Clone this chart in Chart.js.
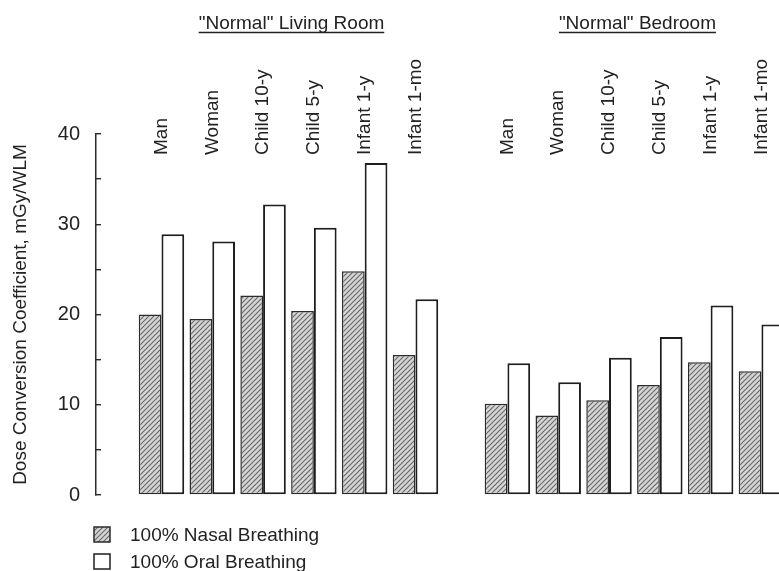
<!DOCTYPE html>
<html>
<head>
<meta charset="utf-8">
<title>Dose Conversion Coefficient by age group</title>
<script src="https://cdn.jsdelivr.net/npm/chart.js@4/dist/chart.umd.min.js"></script>
<style>
  html, body { margin: 0; padding: 0; background: #ffffff; overflow: hidden; }
  #wrap { position: relative; width: 779px; height: 571px; }
</style>
</head>
<body>
<div id="wrap"><canvas id="chart"></canvas></div>
<script>
// Age groups (same order in both rooms)
const categories = ['Man', 'Woman', 'Child 10-y', 'Child 5-y', 'Infant 1-y', 'Infant 1-mo'];

// Dose conversion coefficients, mGy/WLM
const livingNasal  = [20.0, 19.5, 22.1, 20.4, 24.8, 15.5];
const livingOral   = [28.9, 28.1, 32.2, 29.6, 36.8, 21.7];
const bedroomNasal = [10.1, 8.8, 10.5, 12.2, 14.7, 13.7];
const bedroomOral  = [14.6, 12.5, 15.2, 17.5, 21.0, 18.9];

const groupTitles = ['"Normal" Living Room', '"Normal" Bedroom'];
const seriesNames = ['100% Nasal Breathing', '100% Oral Breathing'];
const yTickValues = [0, 10, 20, 30, 40];
const yAxisTitle = 'Dose Conversion Coefficient, mGy/WLM';

// Layout: where each room's group starts on the x scale
const groupStarts = [0, 6.81];

const FONT = "'Liberation Sans', Arial, Helvetica, sans-serif";
const INK = '#222222';
Chart.defaults.font.family = FONT;
Chart.defaults.color = INK;

// Diagonal hatch fill for the nasal-breathing bars
function makeHatch() {
  const s = 5;
  const c = document.createElement('canvas');
  c.width = s; c.height = s;
  const g = c.getContext('2d');
  g.fillStyle = '#d6d6d6';
  g.fillRect(0, 0, s, s);
  g.strokeStyle = '#6a6a6a';
  g.lineWidth = 1.2;
  g.beginPath();
  g.moveTo(0, s); g.lineTo(s, 0);
  g.moveTo(-1, 1); g.lineTo(1, -1);
  g.moveTo(s - 1, s + 1); g.lineTo(s + 1, s - 1);
  g.stroke();
  return g.createPattern(c, 'repeat');
}
const hatch = makeHatch();

const toPoints = (values, start) => values.map((v, i) => ({ x: start + i, y: v }));
const tickPositions = groupStarts.flatMap(s => categories.map((_, i) => s + i));

// Underlined room titles centred over each group
const groupTitlePlugin = {
  id: 'groupTitles',
  afterDraw(chart) {
    const { ctx } = chart;
    const xs = chart.scales.x;
    ctx.save();
    ctx.font = '19px ' + FONT;
    ctx.fillStyle = INK;
    ctx.strokeStyle = INK;
    ctx.lineWidth = 1.3;
    ctx.textAlign = 'center';
    ctx.textBaseline = 'alphabetic';
    groupTitles.forEach((t, g) => {
      const cx = xs.getPixelForValue(groupStarts[g] + (categories.length - 1) / 2) + 3;
      const y = 29;
      ctx.fillText(t, cx, y);
      const w = ctx.measureText(t).width;
      ctx.beginPath();
      ctx.moveTo(cx - w / 2, y + 3.5);
      ctx.lineTo(cx + w / 2, y + 3.5);
      ctx.stroke();
    });
    ctx.restore();
  }
};

// Two-row key under the y axis
const keyPlugin = {
  id: 'stackedKey',
  afterDraw(chart) {
    const { ctx } = chart;
    ctx.save();
    ctx.font = '19px ' + FONT;
    ctx.textBaseline = 'alphabetic';
    ctx.textAlign = 'left';
    chart.data.datasets.forEach((ds, i) => {
      const top = 527 + i * 27;
      ctx.fillStyle = ds.backgroundColor;
      ctx.fillRect(94, top, 16, 15);
      ctx.strokeStyle = ds.borderColor;
      ctx.lineWidth = 1.5;
      ctx.strokeRect(94, top, 16, 15);
      ctx.fillStyle = INK;
      ctx.fillText(ds.label, 130, top + 14);
    });
    ctx.restore();
  }
};

new Chart(document.getElementById('chart'), {
  type: 'bar',
  data: {
    datasets: [
      {
        label: seriesNames[0],
        data: [...toPoints(livingNasal, groupStarts[0]), ...toPoints(bedroomNasal, groupStarts[1])],
        backgroundColor: hatch,
        borderColor: '#2b2b2b',
        borderWidth: 1.5,
        borderSkipped: false
      },
      {
        label: seriesNames[1],
        data: [...toPoints(livingOral, groupStarts[0]), ...toPoints(bedroomOral, groupStarts[1])],
        backgroundColor: '#ffffff',
        borderColor: '#1e1e1e',
        borderWidth: 2,
        borderSkipped: false
      }
    ]
  },
  options: {
    responsive: true,
    maintainAspectRatio: false,
    animation: false,
    categoryPercentage: 0.895,
    barPercentage: 1.0,
    layout: { padding: { top: 0, right: 0, bottom: 76, left: 0 } },
    plugins: {
      legend: { display: false },
      title: { display: false },
      tooltip: { enabled: false }
    },
    scales: {
      x: {
        type: 'linear',
        position: 'top',
        offset: false,
        min: -1.289,
        max: 12.156,
        grid: { display: false },
        border: { display: false },
        afterBuildTicks: s => { s.ticks = tickPositions.map(v => ({ value: v })); },
        afterFit: s => {
          s.height = 134;
          s.paddingLeft = 0;
          s.paddingRight = 0;
        },
        ticks: {
          autoSkip: false,
          minRotation: 90,
          maxRotation: 90,
          mirror: true,
          padding: 21,
          color: INK,
          font: { size: 19 },
          callback: (v, i) => categories[i % categories.length]
        }
      },
      y: {
        position: 'left',
        min: 0,
        max: 40,
        afterFit: s => { s.width = 96; },
        grid: {
          drawOnChartArea: false,
          drawTicks: true,
          tickLength: -5,
          color: '#2a2a2a',
          lineWidth: 1.4
        },
        border: { display: true, color: '#2a2a2a', width: 1.5 },
        ticks: {
          stepSize: 5,
          autoSkip: false,
          padding: 21,
          color: INK,
          font: { size: 20 },
          callback: v => (yTickValues.includes(v) ? String(v) : '')
        },
        title: {
          display: true,
          text: yAxisTitle,
          color: INK,
          font: { size: 19 },
          padding: { top: 9, bottom: 0 }
        }
      }
    }
  },
  plugins: [groupTitlePlugin, keyPlugin]
});
</script>
</body>
</html>
